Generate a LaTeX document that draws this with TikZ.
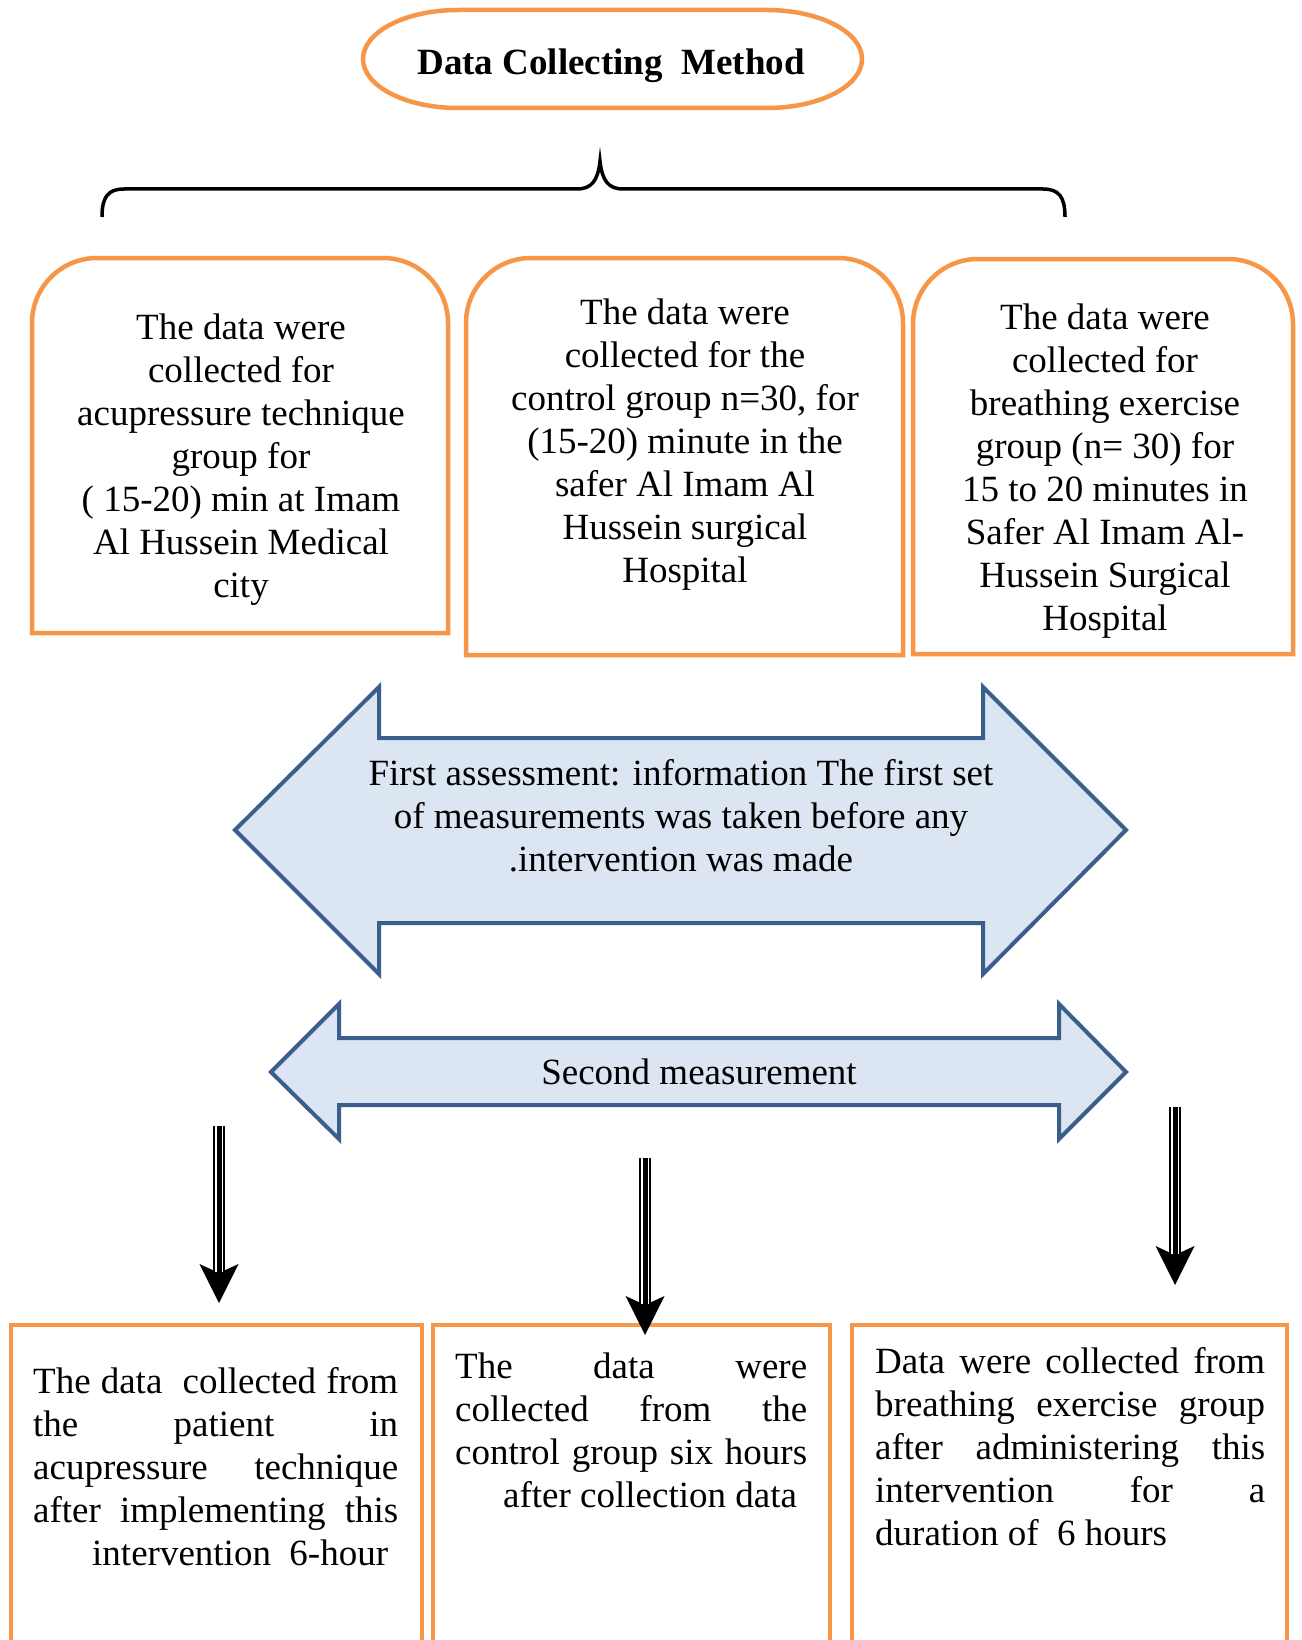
\documentclass[tikz,border=0pt]{standalone}
\usepackage{fontspec}
\setmainfont{Liberation Serif}
\usetikzlibrary{arrows.meta}
\definecolor{orng}{HTML}{F79646}
\definecolor{bfill}{HTML}{DCE6F2}
\definecolor{bline}{HTML}{3B5F8C}
\newcommand\myTriArrow[2]{%
  \draw[line width=12.5pt, -{Stealth[length=39pt,width=39pt,inset=9pt,line width=0pt]}] (#1) -- (#2);
  \draw[white, line width=8.5pt, shorten >=31pt] (#1) -- (#2);
  \draw[line width=5pt, shorten >=31pt] (#1) -- (#2);}
\begin{document}
\begin{tikzpicture}[x=1pt,y=-1pt,
  txt/.style={font=\fontsize{37}{43}\selectfont, inner sep=0pt, anchor=base},
  obox/.style={draw=orng, line width=4.5pt},
  barrow/.style={draw=bline, fill=bfill, line width=4pt, line join=miter},
  brace/.style={draw=black, line width=3.5pt},
]
\clip (0,0) rectangle (1301,1640);
\fill[white] (0,0) rectangle (1301,1640);

% title
\draw[obox] (458,10) -- (767,10) arc[start angle=-90,end angle=90,x radius=95,y radius=49]
  -- (458,108) arc[start angle=90,end angle=270,x radius=95,y radius=49] -- cycle;
\node[txt, font=\fontsize{37}{43}\selectfont\bfseries] (title) at (611,75) {Data Collecting\ \ Method};

% brace
\draw[brace] (102,217) .. controls (102,197) and (108,189) .. (124,189) -- (577,189)
  .. controls (592,189) and (598,180) .. (600,161)
  .. controls (602,180) and (608,189) .. (623,189) -- (1043,189)
  .. controls (1059,189) and (1065,197) .. (1065,217);

% top boxes
\draw[obox] (32,633) -- (32,420) [rounded corners=65] -- (32,258) -- (448,258) -- (448,420) [sharp corners] -- (448,633) -- cycle;
\draw[obox] (466,655) -- (466,420) [rounded corners=65] -- (466,258) -- (903,258) -- (903,420) [sharp corners] -- (903,655) -- cycle;
\draw[obox] (913,654) -- (913,420) [rounded corners=65] -- (913,259) -- (1293,259) -- (1293,420) [sharp corners] -- (1293,654) -- cycle;

\node[txt] (t1) at (241,339) {\begin{tabular}[t]{@{}c@{}}The data were\\collected for\\acupressure technique\\group for\\( 15-20) min at Imam\\Al Hussein Medical\\city\end{tabular}};
\node[txt] (t2) at (685,324) {\begin{tabular}[t]{@{}c@{}}The data were\\collected for the\\control group n=30, for\\(15-20) minute in the\\safer Al Imam Al\\Hussein surgical\\Hospital\end{tabular}};
\node[txt] (t3) at (1105,329) {\begin{tabular}[t]{@{}c@{}}The data were\\collected for\\breathing exercise\\group (n= 30) for\\15 to 20 minutes in\\Safer Al Imam Al-\\Hussein Surgical\\Hospital\end{tabular}};

% big double arrows
\draw[barrow] (235,830) -- (379,687) -- (379,738) -- (983,738) -- (983,687) -- (1126,830)
  -- (983,974) -- (983,923) -- (379,923) -- (379,974) -- cycle;
\node[txt] (a1) at (681,785) {\begin{tabular}[t]{@{}c@{}}First assessment: information The first set\\of measurements was taken before any\\.intervention was made\end{tabular}};

\draw[barrow] (271,1072) -- (339,1004) -- (339,1038) -- (1059,1038) -- (1059,1004) -- (1126,1072)
  -- (1059,1139) -- (1059,1105) -- (339,1105) -- (339,1139) -- cycle;
\node[txt] (a2) at (699,1084) {Second measurement};

% bottom boxes
\draw[obox] (11,1660) -- (11,1325) -- (422,1325) -- (422,1660);
\draw[obox] (433,1660) -- (433,1325) -- (830,1325) -- (830,1660);
\draw[obox] (852,1660) -- (852,1325) -- (1287,1325) -- (1287,1660);

\node[txt, anchor=base west] (b1) at (33,1393) {\begin{tabular}[t]{@{}l@{}}\makebox[365pt][s]{The data\ \ collected from}\\\makebox[365pt][s]{the patient in}\\\makebox[365pt][s]{acupressure technique}\\\makebox[365pt][s]{after implementing this}\\\hspace*{59pt}intervention\ \ 6-hour\end{tabular}};
\node[txt, anchor=base west] (b2) at (455,1378) {\begin{tabular}[t]{@{}l@{}}\makebox[352pt][s]{The data were}\\\makebox[352pt][s]{collected from the}\\\makebox[352pt][s]{control group six hours}\\\hspace*{48pt}after collection data\end{tabular}};
\node[txt, anchor=base west] (b3) at (875,1373) {\begin{tabular}[t]{@{}l@{}}\makebox[390pt][s]{Data were collected from}\\\makebox[390pt][s]{breathing exercise group}\\\makebox[390pt][s]{after administering this}\\\makebox[390pt][s]{intervention for a}\\duration of\ \ 6 hours\end{tabular}};

% triple-line arrows
\coordinate (pA1) at (219,1126);
\coordinate (pA2) at (219,1303);
\coordinate (pB1) at (645,1158);
\coordinate (pB2) at (645,1335);
\coordinate (pC1) at (1175,1107);
\coordinate (pC2) at (1175,1285);
\myTriArrow{pA1}{pA2}
\myTriArrow{pB1}{pB2}
\myTriArrow{pC1}{pC2}
\end{tikzpicture}
\end{document}
